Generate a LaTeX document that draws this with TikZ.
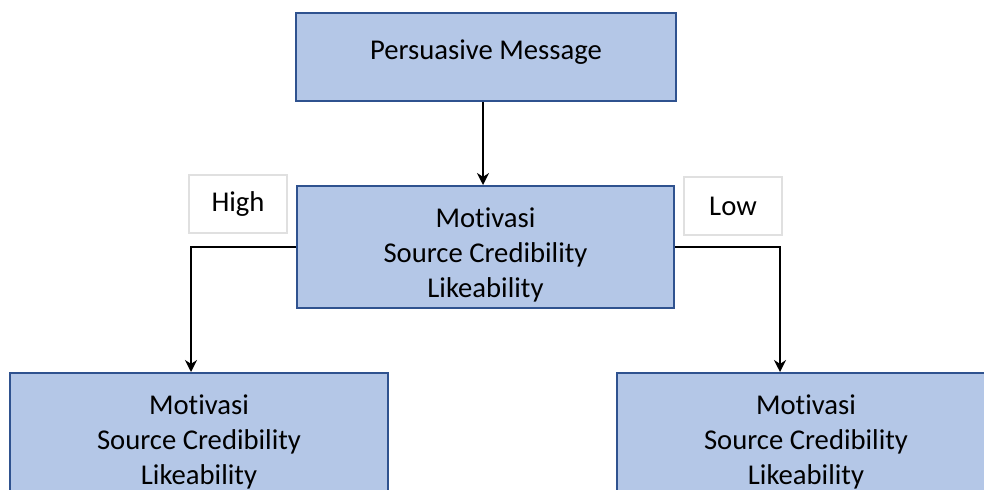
\documentclass[tikz,border=0pt]{standalone}
\usepackage{xcolor}
\usepackage{fontspec}
\setmainfont[Ligatures=CommonOff]{Carlito}
\usetikzlibrary{arrows.meta}

\definecolor{boxfill}{RGB}{180,199,231}
\definecolor{boxline}{RGB}{47,82,143}
\definecolor{tagline}{RGB}{224,224,224}

\begin{document}
\begin{tikzpicture}[x=0.75pt, y=-0.75pt,
    blok/.style={rectangle, draw=boxline, fill=boxfill, line width=1.5pt, align=center,
        font=\fontsize{21.5}{26.3}\selectfont, minimum width=283pt},
    tag/.style={rectangle, draw=tagline, fill=white, line width=1.5pt,
        font=\fontsize{21.5}{26.3}\selectfont, minimum width=73.5pt, minimum height=44pt},
    >={Stealth[length=9pt, width=9pt]}]
                        \useasboundingbox (0, 0) rectangle (984, 489);
                        \clip (0, 0) rectangle (984, 489);

                        \node (msg) at (486, 57) [blok, minimum width=285pt, minimum height=66.5pt] {Persuasive Message\rule[-11pt]{0pt}{11pt}};
                        \node (mid) at (485.5, 247) [blok, minimum height=91.5pt] {\rule{0pt}{27pt}Motivasi\\Source Credibility\\Likeability};
                        \node (left) at (199, 434) [blok, minimum height=91.5pt] {\rule{0pt}{27pt}Motivasi\\Source Credibility\\Likeability};
                        \node (right) at (806, 434) [blok, minimum height=91.5pt] {\rule{0pt}{27pt}Motivasi\\Source Credibility\\Likeability};

                        \node (high) at (238, 204) [tag] {High};
                        \node (low) at (733, 206) [tag] {Low};

                        \draw[->, line width=1.5pt] (msg.south -| 483, 0) -- (mid.north -| 483, 0);
                        \draw[->, line width=1.5pt] (mid.west) -| ([xshift=-6pt]left.north);
                        \draw[->, line width=1.5pt] (mid.east) -| ([xshift=-19.5pt]right.north);
                    \end{tikzpicture}
\end{document}
